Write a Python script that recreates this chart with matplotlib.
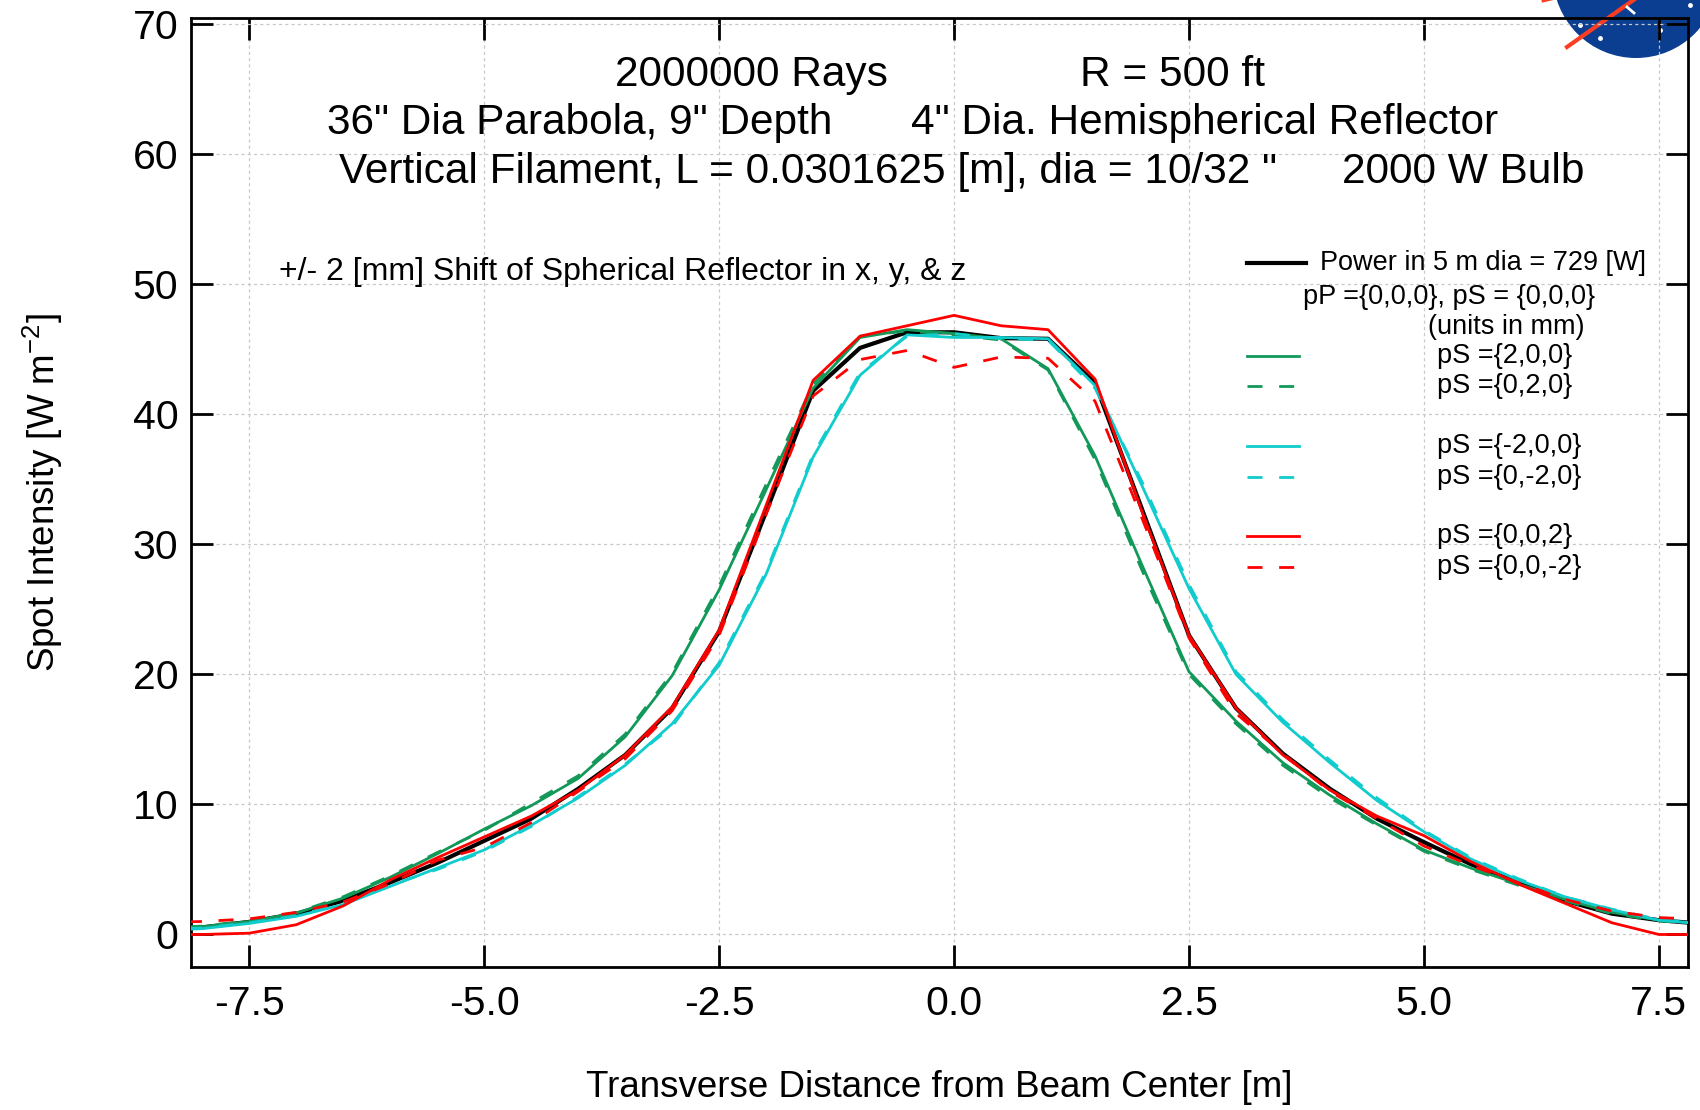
import matplotlib
matplotlib.use("Agg")
import matplotlib.pyplot as plt
from matplotlib.lines import Line2D
from matplotlib.patches import Ellipse

plt.rcParams['font.family'] = ['Liberation Sans', 'DejaVu Sans']
plt.rcParams['mathtext.fontset'] = 'custom'
plt.rcParams['mathtext.rm'] = 'Liberation Sans'
plt.rcParams['axes.unicode_minus'] = False

# ---------------- data ----------------
x_m = [-8.5, -8.0, -7.5, -7.0, -6.5, -6.0, -5.5, -5.0, -4.5, -4.0, -3.5, -3.0,
       -2.5, -2.0, -1.5, -1.0, -0.5, 0.0, 0.5, 1.0, 1.5, 2.0, 2.5, 3.0, 3.5,
       4.0, 4.5, 5.0, 5.5, 6.0, 6.5, 7.0, 7.5, 8.0, 8.5]

base_000 = [0.4, 0.55, 0.97, 1.6, 2.6, 4.0, 5.5, 7.2, 8.9, 11.2, 13.8, 17.4,
            23.3, 32.5, 41.8, 45.1, 46.3, 46.3, 45.85, 45.8, 42.4, 32.7, 23.0, 17.4, 13.9,
            11.2, 8.9, 7.1, 5.4, 4.0, 2.6, 1.6, 1.1, 0.8, 0.6]
pS_200 = [0.4, 0.6, 1.0, 1.65, 2.8, 4.4, 6.2, 8.1, 9.9, 12.0, 15.2, 19.9,
          26.5, 34.2, 42.0, 45.9, 46.5, 46.2, 45.8, 43.5, 36.8, 28.4, 20.2, 16.4, 13.2,
          10.7, 8.5, 6.5, 5.1, 3.9, 2.7, 1.7, 1.1, 0.8, 0.6]
pS_020 = [0.45, 0.65, 1.05, 1.7, 2.9, 4.5, 6.3, 8.0, 10.1, 12.2, 15.4, 20.1,
          26.8, 34.6, 42.3, 46.0, 46.4, 46.1, 45.7, 43.4, 36.5, 28.0, 20.0, 16.2, 13.0,
          10.5, 8.4, 6.4, 5.0, 3.8, 2.6, 1.6, 1.05, 0.75, 0.55]
pS_m200 = [0.3, 0.45, 0.85, 1.4, 2.3, 3.7, 5.1, 6.5, 8.4, 10.5, 13.0, 16.2,
           20.7, 27.7, 36.7, 43.0, 46.1, 45.9, 45.9, 45.8, 42.2, 34.5, 26.6, 20.0, 16.3,
           13.2, 10.3, 7.9, 5.8, 4.2, 2.9, 1.9, 1.1, 0.8, 0.6]
pS_0m20 = [0.35, 0.5, 0.9, 1.45, 2.4, 3.8, 5.0, 6.4, 8.3, 10.6, 13.1, 16.0,
           20.9, 27.9, 36.9, 43.2, 46.0, 46.2, 45.8, 45.7, 42.0, 34.8, 26.9, 20.2, 16.5,
           13.4, 10.5, 8.0, 5.9, 4.3, 2.9, 1.95, 1.15, 0.85, 0.65]
pS_002 = [0.0, 0.0, 0.1, 0.75, 2.2, 4.2, 5.9, 7.5, 9.1, 11.1, 13.8, 17.5,
          23.4, 33.0, 42.6, 46.0, 46.8, 47.6, 46.8, 46.5, 42.7, 32.5, 23.0, 17.4, 13.8,
          11.1, 9.1, 7.6, 5.6, 3.9, 2.4, 0.9, 0.0, 0.0, 0.0]
pS_00m2 = [0.9, 1.0, 1.2, 1.7, 2.5, 3.9, 5.7, 6.7, 8.6, 11.0, 13.5, 17.2,
           23.0, 32.3, 41.4, 44.2, 44.9, 43.6, 44.4, 44.3, 41.0, 32.0, 22.8, 17.0, 13.9,
           11.0, 8.9, 6.8, 5.3, 4.0, 2.7, 1.8, 1.3, 1.15, 1.1]

x_ticks = [-7.5, -5.0, -2.5, 0.0, 2.5, 5.0, 7.5]
y_ticks = [0, 10, 20, 30, 40, 50, 60, 70]

GREEN = '#12995a'
CYAN = '#11cccc'
RED = '#ff0000'
DASH = (0, (5.4, 6.0))

W, H = 1700, 1110
fig = plt.figure(figsize=(17, 11.1), dpi=100)
L, R_, T, B = 191, 1688, 17.5, 967
ax = fig.add_axes([L / W, 1 - B / H, (R_ - L) / W, (B - T) / H])

def fx(px):
    return px / W

def fy(py):
    return 1 - py / H

# NASA-like logo partially behind the top right corner
logo = Ellipse((fx(1636), fy(-25)), 2 * 83 / W, 2 * 83 / H, transform=fig.transFigure,
               facecolor='#0b3d91', edgecolor='none', zorder=1, clip_on=False)
ax.add_artist(logo)
ax.add_artist(Line2D([fx(1567), fx(1642)], [fy(47), fy(-6)], transform=fig.transFigure,
                     color='#fc3d21', lw=3, zorder=1.2, clip_on=False))
ax.add_artist(Line2D([fx(1543), fx(1556)], [fy(1), fy(-2)], transform=fig.transFigure,
                     color='#fc3d21', lw=2, zorder=1.2, clip_on=False))
ax.add_artist(Line2D([fx(1627), fx(1634)], [fy(7), fy(13)], transform=fig.transFigure,
                     color='white', lw=2, zorder=1.2, clip_on=False))
ax.add_artist(Line2D([fx(1600), fx(1690), fx(1580), fx(1660)], [fy(38), fy(5), fy(25), fy(30)],
                     transform=fig.transFigure, ls='none', marker='o', ms=2.5,
                     color='white', zorder=1.2, clip_on=False))

ax.plot(x_m, base_000, color='black', lw=3.0, zorder=3)
ax.plot(x_m, pS_200, color=GREEN, lw=2.0, zorder=3)
ax.plot(x_m, pS_020, color=GREEN, lw=2.0, ls=DASH, zorder=3)
ax.plot(x_m, pS_m200, color=CYAN, lw=2.0, zorder=3)
ax.plot(x_m, pS_0m20, color=CYAN, lw=2.0, ls=DASH, zorder=3)
ax.plot(x_m, pS_002, color=RED, lw=2.0, zorder=3)
ax.plot(x_m, pS_00m2, color=RED, lw=2.0, ls=DASH, zorder=3)

ax.set_xlim(-8.12, 7.81)
ax.set_ylim(-2.5, 70.5)
ax.set_xticks(x_ticks)
ax.set_xticklabels([f"{v:.1f}" for v in x_ticks])
ax.set_yticks(y_ticks)
ax.set_yticklabels([str(v) for v in y_ticks])
ax.tick_params(direction='in', length=16, width=2, top=True, right=True,
               labelsize=29.5, pad=9)
ax.tick_params(axis='x', pad=13)
for s in ax.spines.values():
    s.set_linewidth(2)
ax.grid(True, linestyle=(0, (2.5, 2.5)), color='#c8c8c8', linewidth=0.9)

ax.set_xlabel('Transverse Distance from Beam Center [m]', fontsize=26.5)
ax.xaxis.set_label_coords(0.5, (B - 1070) / (B - T))
ax.set_ylabel(r'Spot Intensity [W m$^{\mathregular{-2}}$]', fontsize=26.5)
ax.yaxis.set_label_coords((65 - L) / (R_ - L), 0.5)

# header texts
fs_t = 30.5
fig.text(fx(751), fy(86), '2000000 Rays', fontsize=fs_t, ha='center', va='baseline')
fig.text(fx(1173), fy(86), 'R = 500 ft', fontsize=fs_t, ha='center', va='baseline')
fig.text(fx(327), fy(134), '36" Dia Parabola, 9" Depth', fontsize=fs_t, ha='left', va='baseline')
fig.text(fx(911), fy(134), '4" Dia. Hemispherical Reflector', fontsize=fs_t, ha='left', va='baseline')
fig.text(fx(339), fy(183), 'Vertical Filament, L = 0.0301625 [m], dia = 10/32 "',
         fontsize=fs_t, ha='left', va='baseline')
fig.text(fx(1342), fy(183), '2000 W Bulb', fontsize=fs_t, ha='left', va='baseline')

fig.text(fx(279), fy(280), '+/- 2 [mm] Shift of Spherical Reflector in x, y, & z',
         fontsize=23, ha='left', va='baseline')

# legend
fs_l = 19.5
leg_lines = [
    (263, 'black', 3.0, '-', 1306),
    (356, GREEN, 2.0, '-', 1299),
    (386, GREEN, 2.0, DASH, 1299),
    (446, CYAN, 2.0, '-', 1299),
    (477, CYAN, 2.0, DASH, 1299),
    (536, RED, 2.0, '-', 1299),
    (567, RED, 2.0, DASH, 1299),
]
for py, c, lw, ls, xe in leg_lines:
    fig.add_artist(Line2D([fx(1247), fx(xe)], [fy(py), fy(py)], transform=fig.transFigure,
                          color=c, lw=lw, ls=ls))
leg_texts = [
    (1320, 263, 'Power in 5 m dia = 729 [W]'),
    (1303, 297, 'pP ={0,0,0}, pS = {0,0,0}'),
    (1428, 327, '(units in mm)'),
    (1437, 356, 'pS ={2,0,0}'),
    (1437, 386, 'pS ={0,2,0}'),
    (1437, 446, 'pS ={-2,0,0}'),
    (1437, 477, 'pS ={0,-2,0}'),
    (1437, 536, 'pS ={0,0,2}'),
    (1437, 567, 'pS ={0,0,-2}'),
]
for px, py, t in leg_texts:
    fig.text(fx(px), fy(py), t, fontsize=fs_l, ha='left', va='center')

fig.savefig('out.png', dpi=100)
